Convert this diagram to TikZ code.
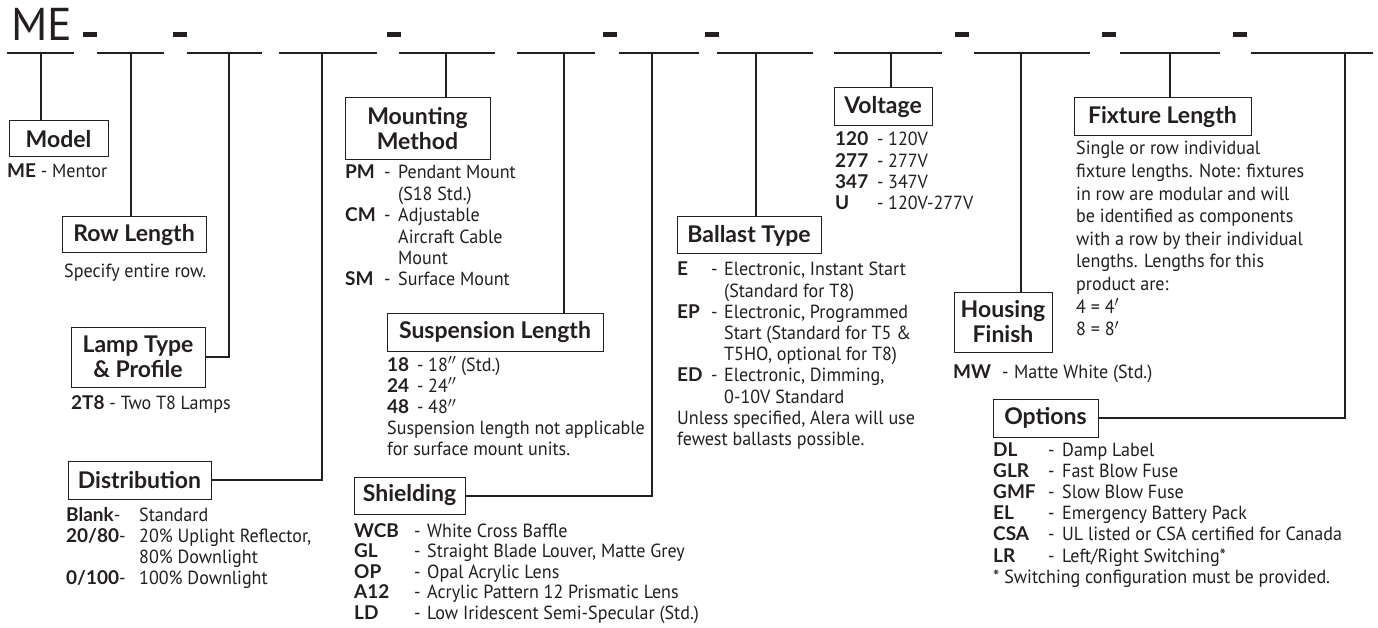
\documentclass[tikz,border=0pt]{standalone}
\usepackage{fontspec}
\setmainfont{PT Sans}[FakeStretch=0.95]
\newfontfamily\headfont{Lato}
\newfontfamily\mefont{PT Sans}
\usepackage{xcolor}
\usetikzlibrary{positioning}

\definecolor{ink}{HTML}{231F20}
\newcommand{\kw}[1]{{\headfont\bfseries #1}}

\begin{document}
\begin{tikzpicture}[
    x=1pt, y=-1pt,
    head/.style={draw=ink, line width=1pt, inner sep=0pt, text=ink,
                 font=\headfont\bfseries\fontsize{23}{25}\selectfont, align=center},
    lst/.style={anchor=base west, inner sep=0pt, text=ink, align=left,
                font=\fontsize{19}{#1}\selectfont},
    lst/.default=21,
    link/.style={draw=ink, line width=2pt},
    bar/.style={draw=ink, line width=2.2pt}
  ]
    \fill[white] (0,0) rectangle (1378,628);
    \useasboundingbox (0,0) rectangle (1378,628);

    % model number template
    \node[anchor=base west, inner sep=0pt, text=ink, font=\mefont\fontsize{46}{46}\selectfont] (me) at (11,41) {ME};
    \foreach \xa/\xb in {7/74, 97/164, 187/262, 279/377, 399/495, 517/595,
                         619/699, 717/813, 834/942, 974/1090, 1120/1220, 1251/1373}
      \draw[bar] (\xa,53) -- (\xb,53);
    \foreach \xa in {83, 173, 387, 603, 705, 955, 1102, 1233}
      \fill[ink] (\xa,32.5) rectangle ++(14,4.5);
    \foreach \xv [count=\i] in {41, 131, 229, 322, 446, 564, 652, 756, 891, 1021, 1170, 1345}
      \coordinate (t\i) at (\xv,53);

    % headings
    \node[head, minimum width=99, minimum height=36]  (model)   at (58.5,139)   {Model};
    \node[head, minimum width=144, minimum height=36] (rowlen)  at (134,235)    {Row Length};
    \node[head, minimum width=134, minimum height=60] (lamp)    at (138,357)    {Lamp Type\\\& Profile};
    \node[head, minimum width=143, minimum height=38] (distrib) at (139.5,480)  {Distribution};
    \node[head, minimum width=145, minimum height=62] (mount)   at (417.5,129)  {Mounting\\Method};
    \node[head, minimum width=216, minimum height=38] (susp)    at (495,332)    {Suspension Length};
    \node[head, minimum width=111, minimum height=37] (shield)  at (409.5,495.5){Shielding};
    \node[head, minimum width=144, minimum height=37] (ballast) at (749,235.5)  {Ballast Type};
    \node[head, minimum width=98, minimum height=38]  (volt)    at (883,107)    {Voltage};
    \node[head, minimum width=98, minimum height=60]  (housing) at (1003,322)   {Housing\\Finish};
    \node[head, minimum width=177, minimum height=38] (fixlen)  at (1162.5,117) {Fixture Length};
    \node[head, minimum width=105, minimum height=38] (options) at (1045.5,418) {Options};

    % leaders
    \draw[link] (t1) -- (t1 |- model.north);
    \draw[link] (t2) -- (t2 |- rowlen.north);
    \draw[link] (lamp.east) -| (t3);
    \draw[link] (distrib.east) -| (t4);
    \draw[link] (t5) -- (t5 |- mount.north);
    \draw[link] (t6) -- (t6 |- susp.north);
    \draw[link] (shield.east) -| (t7);
    \draw[link] (t8) -- (t8 |- ballast.north);
    \draw[link] (t9) -- (t9 |- volt.north);
    \draw[link] (t10) -- (t10 |- housing.north);
    \draw[link] (t11) -- (t11 |- fixlen.north);
    \draw[link] (options.east) -| (t12);

    % choices
    \node[lst] (modeltxt) at (7,178) {\kw{ME} - Mentor};
    \node[lst] (rowtxt) at (64,278) {Specify entire row.};
    \node[lst] (lamptxt) at (71,409) {\kw{2T8} - Two T8 Lamps};
    \node[lst] (distxt) at (66,521) {\begin{tabular}[t]{@{}p{73pt}@{}l@{}}
      \kw{Blank}- & Standard\\
      \kw{20/80}- & 20\% Uplight Reflector,\\
                  & 80\% Downlight\\
      \kw{0/100}- & 100\% Downlight
    \end{tabular}};
    \node[lst=21.4] (mounttxt) at (345,179) {\begin{tabular}[t]{@{}p{39pt}@{}p{14pt}@{}l@{}}
      \kw{PM} & - & Pendant Mount\\
              &   & (S18 Std.)\\
      \kw{CM} & - & Adjustable\\
              &   & Aircraft Cable\\
              &   & Mount\\
      \kw{SM} & - & Surface Mount
    \end{tabular}};
    \node[lst=21.2] (susptxt) at (387,371) {\begin{tabular}[t]{@{}p{30pt}@{}p{11pt}@{}l@{}}
      \kw{18} & - & 18$''$ (Std.)\\
      \kw{24} & - & 24$''$\\
      \kw{48} & - & 48$''$\\
      \multicolumn{3}{@{}l@{}}{Suspension length not applicable}\\
      \multicolumn{3}{@{}l@{}}{for surface mount units.}
    \end{tabular}};
    \node[lst=20.5] (shieldtxt) at (354,537) {\begin{tabular}[t]{@{}p{60pt}@{}p{13pt}@{}l@{}}
      \kw{WCB} & - & White Cross Baffle\\
      \kw{GL}  & - & Straight Blade Louver, Matte Grey\\
      \kw{OP}  & - & Opal Acrylic Lens\\
      \kw{A12} & - & Acrylic Pattern 12 Prismatic Lens\\
      \kw{LD}  & - & Low Iridescent Semi-Specular (Std.)
    \end{tabular}};
    \node[lst=21.2] (ballasttxt) at (677,276) {\begin{tabular}[t]{@{}p{34pt}@{}p{13pt}@{}l@{}}
      \kw{E}  & - & Electronic, Instant Start\\
              &   & (Standard for T8)\\
      \kw{EP} & - & Electronic, Programmed\\
              &   & Start (Standard for T5 \&\\
              &   & T5HO, optional for T8)\\
      \kw{ED} & - & Electronic, Dimming,\\
              &   & 0-10V Standard\\
      \multicolumn{3}{@{}l@{}}{Unless specified, Alera will use}\\
      \multicolumn{3}{@{}l@{}}{fewest ballasts possible.}
    \end{tabular}};
    \node[lst=21.3] (volttxt) at (835,146) {\begin{tabular}[t]{@{}p{42pt}@{}p{11pt}@{}l@{}}
      \kw{120} & - & 120V\\
      \kw{277} & - & 277V\\
      \kw{347} & - & 347V\\
      \kw{U}   & - & 120V-277V
    \end{tabular}};
    \node[lst] (housingtxt) at (953,378) {\begin{tabular}[t]{@{}p{49pt}@{}p{12pt}@{}l@{}}
      \kw{MW} & - & Matte White (Std.)
    \end{tabular}};
    \node[lst=22.6] (fixtxt) at (1076,155) {\begin{tabular}[t]{@{}l@{}}
      Single or row individual\\
      fixture lengths. Note: fixtures\\
      in row are modular and will\\
      be identified as components\\
      with a row by their individual\\
      lengths. Lengths for this\\
      product are:\\
      4 = 4$'$\\
      8 = 8$'$
    \end{tabular}};
    \node[lst=21.2] (optionstxt) at (993,456) {\begin{tabular}[t]{@{}p{55pt}@{}p{14pt}@{}l@{}}
      \kw{DL}  & - & Damp Label\\
      \kw{GLR} & - & Fast Blow Fuse\\
      \kw{GMF} & - & Slow Blow Fuse\\
      \kw{EL}  & - & Emergency Battery Pack\\
      \kw{CSA} & - & UL listed or CSA certified for Canada\\
      \kw{LR}  & - & Left/Right Switching*\\
      \multicolumn{3}{@{}l@{}}{* Switching configuration must be provided.}
    \end{tabular}};
  \end{tikzpicture}
\end{document}
